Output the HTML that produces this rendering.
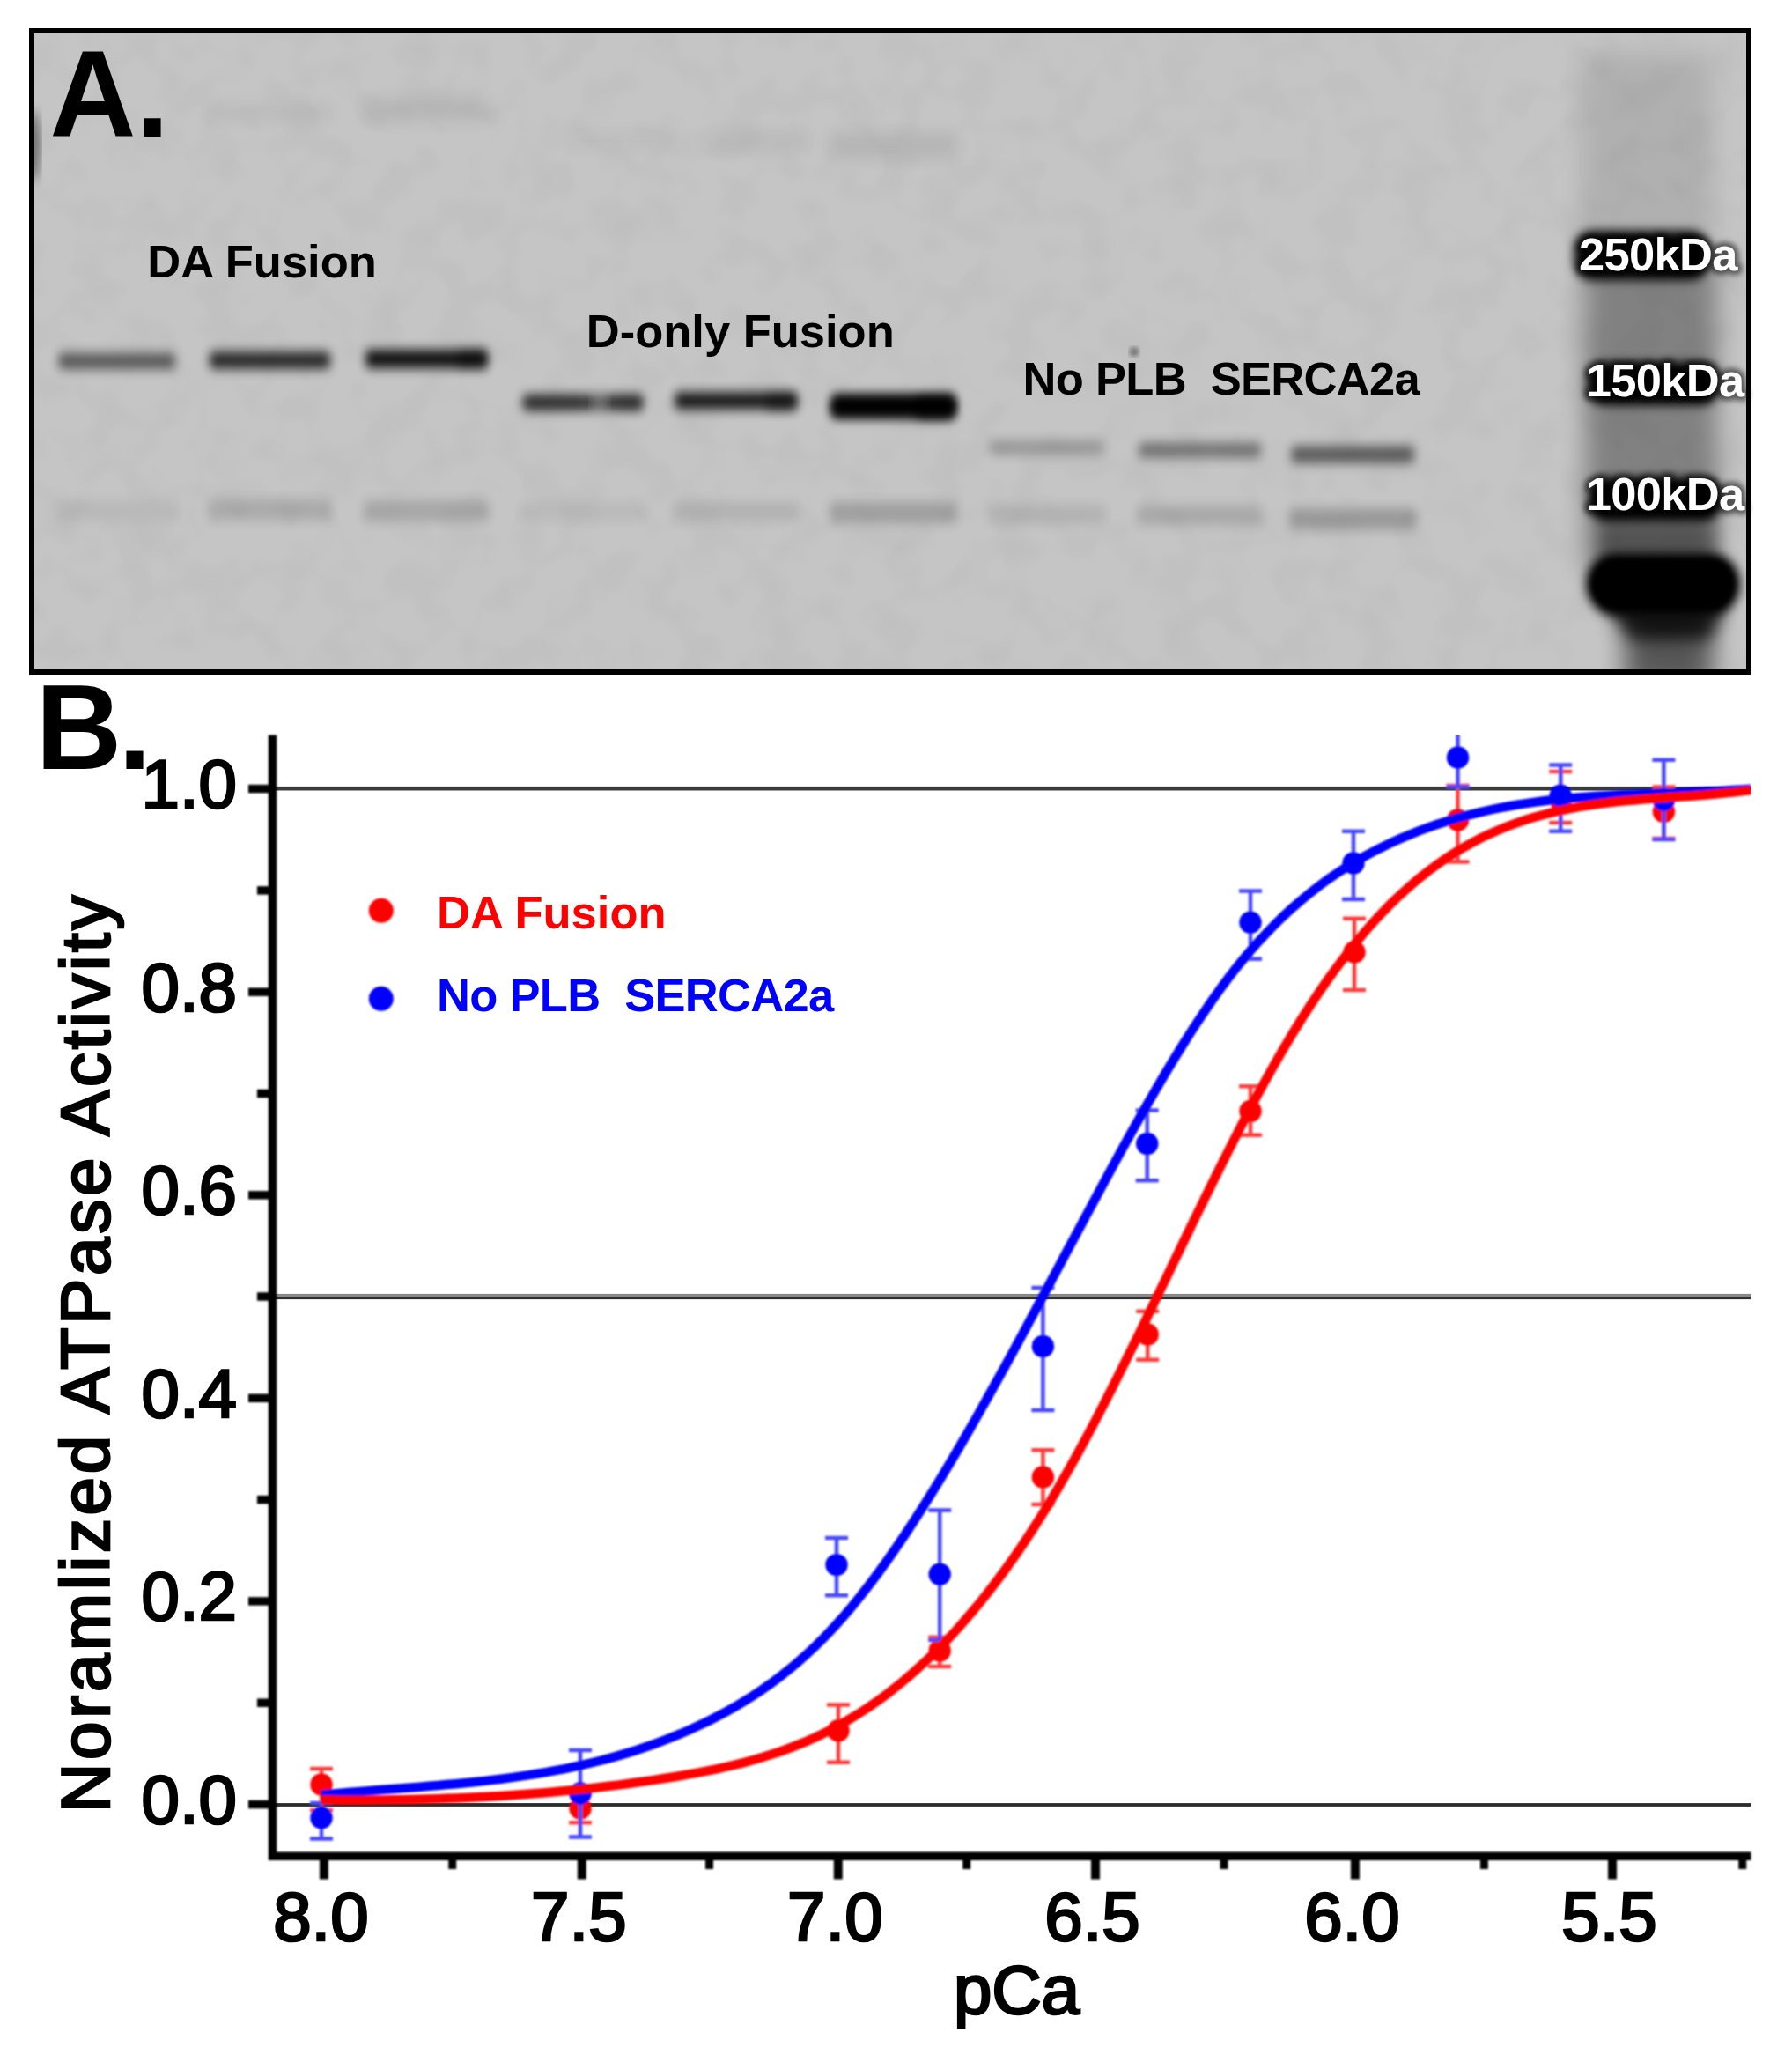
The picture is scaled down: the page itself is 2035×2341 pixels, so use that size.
<!DOCTYPE html>
<html><head><meta charset="utf-8"><title>Figure</title>
<style>
html,body{margin:0;padding:0;background:#fff;}
body{width:2035px;height:2341px;overflow:hidden;}
svg{display:block;}
text{font-family:"Liberation Sans",Arial,sans-serif;}
.b{font-weight:bold;}
.ax{font-size:78px;fill:#000;stroke:#000;stroke-width:2.7px;}
</style></head><body>
<svg width="2035" height="2341" viewBox="0 0 2035 2341">
<defs>
<filter id="b5" x="-20%" y="-200%" width="140%" height="500%"><feGaussianBlur stdDeviation="5.5 6.5"/></filter>
<filter id="b6" x="-30%" y="-100%" width="160%" height="300%"><feGaussianBlur stdDeviation="6"/></filter>
<filter id="b8" x="-30%" y="-100%" width="160%" height="300%"><feGaussianBlur stdDeviation="9"/></filter>
<filter id="b14" x="-50%" y="-50%" width="200%" height="200%"><feGaussianBlur stdDeviation="14"/></filter>
<filter id="b3" x="-20%" y="-20%" width="140%" height="140%"><feGaussianBlur stdDeviation="3"/></filter>
<filter id="soft" x="-5%" y="-5%" width="110%" height="110%"><feGaussianBlur stdDeviation="0.9"/></filter>
<filter id="noise" x="0" y="0" width="100%" height="100%">
<feTurbulence type="fractalNoise" baseFrequency="0.022" numOctaves="2" seed="7" result="n"/>
<feColorMatrix type="matrix" values="0 0 0 0 0  0 0 0 0 0  0 0 0 0 0  0.9 0 0 0 -0.36"/>
</filter>
<clipPath id="blotclip"><rect x="36" y="35" width="1950" height="728"/></clipPath>
<clipPath id="plotclip"><rect x="305" y="834" width="1684" height="1270"/></clipPath>
</defs>
<rect width="2035" height="2341" fill="#fff"/>

<g clip-path="url(#blotclip)">
<rect x="33" y="32" width="1956" height="734" fill="#c5c5c5"/>
<rect x="33" y="32" width="1956" height="734" fill="#000" filter="url(#noise)" opacity="0.07"/>
<ellipse cx="38" cy="165" rx="7" ry="40" fill="#000" opacity="0.45" filter="url(#b5)"/>
<rect x="236" y="117.0" width="141" height="22" rx="5" fill="#000" opacity="0.04" filter="url(#b8)"/>
<rect x="413" y="112.0" width="143" height="26" rx="5" fill="#000" opacity="0.07" filter="url(#b8)"/>
<rect x="640" y="149.0" width="120" height="22" rx="5" fill="#000" opacity="0.03" filter="url(#b8)"/>
<rect x="800" y="148.0" width="120" height="24" rx="5" fill="#000" opacity="0.05" filter="url(#b8)"/>
<rect x="942" y="150.0" width="145" height="30" rx="5" fill="#000" opacity="0.08" filter="url(#b8)"/>
<rect x="66" y="401.0" width="133" height="18" rx="5" fill="#000" opacity="0.56" filter="url(#b5)"/>
<rect x="238" y="399.5" width="137" height="19" rx="5" fill="#000" opacity="0.82" filter="url(#b5)"/>
<rect x="415" y="397.5" width="139" height="20" rx="5" fill="#000" opacity="0.95" filter="url(#b5)"/>
<rect x="593" y="448.5" width="138" height="17" rx="5" fill="#000" opacity="0.78" filter="url(#b5)"/>
<rect x="766" y="445.5" width="140" height="19" rx="5" fill="#000" opacity="0.9" filter="url(#b5)"/>
<rect x="944" y="448.0" width="141" height="26" rx="5" fill="#000" opacity="1.0" filter="url(#b5)"/>
<rect x="1124" y="500.0" width="130" height="16" rx="5" fill="#000" opacity="0.23" filter="url(#b5)"/>
<rect x="1293" y="502.5" width="139" height="17" rx="5" fill="#000" opacity="0.42" filter="url(#b5)"/>
<rect x="1466" y="506.5" width="140" height="19" rx="5" fill="#000" opacity="0.55" filter="url(#b5)"/>
<rect x="520" y="399.0" width="32" height="18" rx="5" fill="#000" opacity="0.35" filter="url(#b5)"/>
<rect x="870" y="448.0" width="32" height="18" rx="5" fill="#000" opacity="0.35" filter="url(#b5)"/>
<rect x="700" y="449.0" width="28" height="16" rx="5" fill="#000" opacity="0.2" filter="url(#b5)"/>
<rect x="600" y="450.0" width="60" height="14" rx="5" fill="#000" opacity="0.15" filter="url(#b5)"/>
<rect x="1040" y="451.0" width="42" height="24" rx="5" fill="#000" opacity="0.6" filter="url(#b5)"/>
<rect x="944" y="453.0" width="141" height="18" rx="5" fill="#000" opacity="0.8" filter="url(#b5)"/>
<rect x="672" y="442.0" width="18" height="30" fill="#c5c5c5" opacity="0.32" filter="url(#b5)"/>
<rect x="64" y="568.0" width="137" height="24" rx="5" fill="#000" opacity="0.06" filter="url(#b5)"/>
<rect x="236" y="567.0" width="141" height="24" rx="5" fill="#000" opacity="0.13" filter="url(#b5)"/>
<rect x="413" y="568.0" width="143" height="24" rx="5" fill="#000" opacity="0.15" filter="url(#b5)"/>
<rect x="590" y="570.0" width="144" height="22" rx="5" fill="#000" opacity="0.05" filter="url(#b5)"/>
<rect x="764" y="570.0" width="144" height="22" rx="5" fill="#000" opacity="0.09" filter="url(#b5)"/>
<rect x="942" y="570.0" width="145" height="24" rx="5" fill="#000" opacity="0.19" filter="url(#b5)"/>
<rect x="1122" y="573.0" width="134" height="22" rx="5" fill="#000" opacity="0.09" filter="url(#b5)"/>
<rect x="1291" y="574.0" width="143" height="22" rx="5" fill="#000" opacity="0.14" filter="url(#b5)"/>
<rect x="1464" y="577.0" width="144" height="24" rx="5" fill="#000" opacity="0.22" filter="url(#b5)"/>
<circle cx="1288" cy="399.5" r="5" fill="#000" opacity="0.5" filter="url(#b3)"/>
<rect x="1795" y="60" width="150" height="230" fill="#000" opacity="0.10" filter="url(#b14)"/>
<rect x="1800" y="290" width="150" height="360" fill="#000" opacity="0.34" filter="url(#b14)"/>
<rect x="1845" y="690" width="100" height="90" fill="#000" opacity="0.55" filter="url(#b14)"/>
<rect x="1788" y="262" width="152" height="56" rx="20" fill="#000" filter="url(#b6)"/>
<rect x="1802" y="411" width="150" height="49" rx="20" fill="#000" filter="url(#b6)"/>
<rect x="1804" y="542" width="151" height="50" rx="20" fill="#000" filter="url(#b6)"/>
<rect x="1815" y="592" width="135" height="50" fill="#000" opacity="0.35" filter="url(#b8)"/>
<path d="M1815,680 L1963,680 L1942,726 L1852,726 Z" fill="#000" opacity="0.8" filter="url(#b8)"/>
<rect x="1801" y="628" width="175" height="70" rx="34" fill="#000" filter="url(#b6)"/>
<rect x="1808" y="635" width="161" height="56" rx="28" fill="#000" filter="url(#b3)"/>
</g>
<rect x="36" y="35" width="1950" height="728" fill="none" stroke="#000" stroke-width="6"/>
<text class="b" transform="translate(56.5,154.8) scale(1,1.028)" font-size="135.5">A.</text>
<text class="b" x="167.3" y="314.5" font-size="52.5">DA Fusion</text>
<text class="b" x="665.8" y="394" font-size="52.5">D-only Fusion</text>
<text class="b" x="1161.5" y="448" font-size="52.5" letter-spacing="-0.7" xml:space="preserve" style="white-space:pre">No PLB  SERCA2a</text>
<text class="b" x="1793" y="307.3" font-size="52.5" letter-spacing="-0.7" fill="#000" stroke="#000" stroke-width="9" stroke-linejoin="round" opacity="0.55" filter="url(#b3)">250kDa</text>
<text class="b" x="1793" y="307.3" font-size="52.5" letter-spacing="-0.7" fill="#fff">250kDa</text>
<text class="b" x="1800.7" y="450.2" font-size="52.5" letter-spacing="-0.7" fill="#000" stroke="#000" stroke-width="9" stroke-linejoin="round" opacity="0.55" filter="url(#b3)">150kDa</text>
<text class="b" x="1800.7" y="450.2" font-size="52.5" letter-spacing="-0.7" fill="#fff">150kDa</text>
<text class="b" x="1800.7" y="579.2" font-size="52.5" letter-spacing="-0.7" fill="#000" stroke="#000" stroke-width="9" stroke-linejoin="round" opacity="0.55" filter="url(#b3)">100kDa</text>
<text class="b" x="1800.7" y="579.2" font-size="52.5" letter-spacing="-0.7" fill="#fff">100kDa</text>
<text class="b" transform="translate(40.5,873) scale(1,1.02)" font-size="135.5" letter-spacing="-4">B.</text>
<rect x="312" y="892.9" width="1676.5" height="4.6" fill="#3c3c3c"/>
<rect x="312" y="1468.9" width="1676.5" height="3.2" fill="#8a8a8a"/>
<rect x="312" y="1472" width="1676.5" height="3.1" fill="#303030"/>
<rect x="312" y="2047.1" width="1676.5" height="3.8" fill="#2c2c2c"/>
<g clip-path="url(#plotclip)" filter="url(#soft)">
<path d="M365.0,2008.0V2055.3M352.0,2008.0h26M352.0,2055.3h26" stroke="#ff3c3c" stroke-width="4.5" fill="none"/>
<circle cx="365.0" cy="2026.0" r="12.7" fill="#ff0000"/>
<path d="M659.0,2037.0V2069.3M646.0,2037.0h26M646.0,2069.3h26" stroke="#ff3c3c" stroke-width="4.5" fill="none"/>
<circle cx="659.0" cy="2053.0" r="12.7" fill="#ff0000"/>
<path d="M952.0,1935.5V2000.8M939.0,1935.5h26M939.0,2000.8h26" stroke="#ff3c3c" stroke-width="4.5" fill="none"/>
<circle cx="952.0" cy="1964.8" r="12.7" fill="#ff0000"/>
<path d="M1067.2,1858.8V1892.0M1054.2,1858.8h26M1054.2,1892.0h26" stroke="#ff3c3c" stroke-width="4.5" fill="none"/>
<circle cx="1067.2" cy="1874.0" r="12.7" fill="#ff0000"/>
<path d="M1184.4,1646.3V1708.0M1171.4,1646.3h26M1171.4,1708.0h26" stroke="#ff3c3c" stroke-width="4.5" fill="none"/>
<circle cx="1184.4" cy="1677.0" r="12.7" fill="#ff0000"/>
<path d="M1303.2,1488.7V1543.7M1290.2,1488.7h26M1290.2,1543.7h26" stroke="#ff3c3c" stroke-width="4.5" fill="none"/>
<circle cx="1303.2" cy="1515.0" r="12.7" fill="#ff0000"/>
<path d="M1420.0,1233.3V1288.8M1407.0,1233.3h26M1407.0,1288.8h26" stroke="#ff3c3c" stroke-width="4.5" fill="none"/>
<circle cx="1420.0" cy="1261.4" r="12.7" fill="#ff0000"/>
<path d="M1538.0,1042.7V1124.0M1525.0,1042.7h26M1525.0,1124.0h26" stroke="#ff3c3c" stroke-width="4.5" fill="none"/>
<circle cx="1538.0" cy="1081.0" r="12.7" fill="#ff0000"/>
<path d="M1655.5,892.0V978.6M1642.5,892.0h26M1642.5,978.6h26" stroke="#ff3c3c" stroke-width="4.5" fill="none"/>
<circle cx="1655.5" cy="931.0" r="12.7" fill="#ff0000"/>
<path d="M1772.2,875.9V934.0M1759.2,875.9h26M1759.2,934.0h26" stroke="#ff3c3c" stroke-width="4.5" fill="none"/>
<circle cx="1772.2" cy="908.0" r="12.7" fill="#ff0000"/>
<path d="M1889.4,893.5V952.0M1876.4,893.5h26M1876.4,952.0h26" stroke="#ff3c3c" stroke-width="4.5" fill="none"/>
<circle cx="1889.4" cy="921.4" r="12.7" fill="#ff0000"/>
<path d="M365.0,2047.0V2087.4M352.0,2047.0h26M352.0,2087.4h26" stroke="#4646ff" stroke-width="4.5" fill="none"/>
<circle cx="365.0" cy="2063.7" r="12.7" fill="#0000ff"/>
<path d="M659.0,1987.0V2085.5M646.0,1987.0h26M646.0,2085.5h26" stroke="#4646ff" stroke-width="4.5" fill="none"/>
<circle cx="659.0" cy="2036.0" r="12.7" fill="#0000ff"/>
<path d="M950.0,1746.0V1811.3M937.0,1746.0h26M937.0,1811.3h26" stroke="#4646ff" stroke-width="4.5" fill="none"/>
<circle cx="950.0" cy="1776.6" r="12.7" fill="#0000ff"/>
<path d="M1067.2,1714.5V1862.0M1054.2,1714.5h26M1054.2,1862.0h26" stroke="#4646ff" stroke-width="4.5" fill="none"/>
<circle cx="1067.2" cy="1787.3" r="12.7" fill="#0000ff"/>
<path d="M1184.4,1462.0V1601.0M1171.4,1462.0h26M1171.4,1601.0h26" stroke="#4646ff" stroke-width="4.5" fill="none"/>
<circle cx="1184.4" cy="1528.5" r="12.7" fill="#0000ff"/>
<path d="M1302.7,1260.6V1340.3M1289.7,1260.6h26M1289.7,1340.3h26" stroke="#4646ff" stroke-width="4.5" fill="none"/>
<circle cx="1302.7" cy="1298.5" r="12.7" fill="#0000ff"/>
<path d="M1420.0,1011.4V1088.8M1407.0,1011.4h26M1407.0,1088.8h26" stroke="#4646ff" stroke-width="4.5" fill="none"/>
<circle cx="1420.0" cy="1047.3" r="12.7" fill="#0000ff"/>
<path d="M1537.0,943.8V1021.0M1524.0,943.8h26M1524.0,1021.0h26" stroke="#4646ff" stroke-width="4.5" fill="none"/>
<circle cx="1537.0" cy="980.0" r="12.7" fill="#0000ff"/>
<path d="M1655.5,826.0V893.5M1642.5,826.0h26M1642.5,893.5h26" stroke="#4646ff" stroke-width="4.5" fill="none"/>
<circle cx="1655.5" cy="860.0" r="12.7" fill="#0000ff"/>
<path d="M1772.2,868.4V943.7M1759.2,868.4h26M1759.2,943.7h26" stroke="#4646ff" stroke-width="4.5" fill="none"/>
<circle cx="1772.2" cy="903.2" r="12.7" fill="#0000ff"/>
<path d="M1889.4,862.8V952.9M1876.4,862.8h26M1876.4,952.9h26" stroke="#4646ff" stroke-width="4.5" fill="none"/>
<circle cx="1889.4" cy="908.0" r="12.7" fill="#0000ff"/>
<path d="M364.5,2037.7 L374.7,2036.8 L384.9,2035.9 L395.1,2035.0 L405.4,2034.2 L415.6,2033.4 L425.8,2032.6 L436.0,2031.8 L446.2,2031.0 L456.4,2030.2 L466.6,2029.5 L476.9,2028.7 L487.1,2027.8 L497.3,2027.0 L507.5,2026.1 L517.7,2025.2 L527.9,2024.2 L538.1,2023.2 L548.3,2022.1 L558.6,2020.9 L568.8,2019.7 L579.0,2018.4 L589.2,2016.9 L599.4,2015.4 L609.6,2013.8 L619.8,2012.1 L630.1,2010.2 L640.3,2008.3 L650.5,2006.2 L660.7,2003.9 L670.9,2001.5 L681.1,1999.0 L691.3,1996.3 L701.6,1993.4 L711.8,1990.4 L722.0,1987.2 L732.2,1983.8 L742.4,1980.2 L752.6,1976.4 L762.8,1972.4 L773.1,1968.2 L783.3,1963.7 L793.5,1959.1 L803.7,1954.2 L813.9,1949.0 L824.1,1943.6 L834.3,1937.9 L844.6,1931.8 L854.8,1925.4 L865.0,1918.6 L875.2,1911.4 L885.4,1903.8 L895.6,1895.7 L905.8,1887.2 L916.0,1878.1 L926.3,1868.5 L936.5,1858.4 L946.7,1847.6 L956.9,1836.3 L967.1,1824.3 L977.3,1811.8 L987.5,1798.7 L997.8,1785.0 L1008.0,1770.9 L1018.2,1756.3 L1028.4,1741.2 L1038.6,1725.7 L1048.8,1709.8 L1059.0,1693.4 L1069.3,1676.8 L1079.5,1659.8 L1089.7,1642.5 L1099.9,1624.9 L1110.1,1607.0 L1120.3,1588.9 L1130.5,1570.6 L1140.8,1552.1 L1151.0,1533.5 L1161.2,1514.7 L1171.4,1495.8 L1181.6,1476.8 L1191.8,1457.7 L1202.0,1438.7 L1212.2,1419.5 L1222.5,1400.5 L1232.7,1381.4 L1242.9,1362.4 L1253.1,1343.5 L1263.3,1324.7 L1273.5,1306.1 L1283.7,1287.6 L1294.0,1269.4 L1304.2,1251.4 L1314.4,1233.8 L1324.6,1216.5 L1334.8,1199.7 L1345.0,1183.2 L1355.2,1167.2 L1365.5,1151.8 L1375.7,1136.8 L1385.9,1122.5 L1396.1,1108.8 L1406.3,1095.8 L1416.5,1083.4 L1426.7,1071.7 L1437.0,1060.6 L1447.2,1050.1 L1457.4,1040.1 L1467.6,1030.7 L1477.8,1021.9 L1488.0,1013.5 L1498.2,1005.6 L1508.4,998.1 L1518.7,991.1 L1528.9,984.5 L1539.1,978.3 L1549.3,972.4 L1559.5,966.9 L1569.7,961.7 L1579.9,956.8 L1590.2,952.1 L1600.4,947.8 L1610.6,943.7 L1620.8,939.9 L1631.0,936.3 L1641.2,932.9 L1651.4,929.8 L1661.7,926.9 L1671.9,924.3 L1682.1,921.8 L1692.3,919.5 L1702.5,917.4 L1712.7,915.5 L1722.9,913.7 L1733.2,912.1 L1743.4,910.6 L1753.6,909.3 L1763.8,908.1 L1774.0,907.1 L1784.2,906.1 L1794.4,905.2 L1804.7,904.5 L1814.9,903.8 L1825.1,903.2 L1835.3,902.6 L1845.5,902.1 L1855.7,901.7 L1865.9,901.3 L1876.1,900.9 L1886.4,900.5 L1896.6,900.2 L1906.8,899.8 L1917.0,899.4 L1927.2,899.0 L1937.4,898.6 L1947.6,898.2 L1957.9,897.7 L1968.1,897.1 L1978.3,896.5 L1988.5,895.8" fill="none" stroke="#0000ff" stroke-width="10.5"/>
<path d="M364.5,2043.6 L374.7,2043.6 L384.9,2043.7 L395.1,2043.7 L405.4,2043.7 L415.6,2043.7 L425.8,2043.6 L436.0,2043.5 L446.2,2043.3 L456.4,2043.2 L466.6,2043.0 L476.9,2042.7 L487.1,2042.5 L497.3,2042.2 L507.5,2041.8 L517.7,2041.4 L527.9,2041.0 L538.1,2040.5 L548.3,2040.0 L558.6,2039.5 L568.8,2038.9 L579.0,2038.2 L589.2,2037.5 L599.4,2036.8 L609.6,2036.0 L619.8,2035.2 L630.1,2034.3 L640.3,2033.3 L650.5,2032.3 L660.7,2031.3 L670.9,2030.2 L681.1,2029.0 L691.3,2027.8 L701.6,2026.6 L711.8,2025.2 L722.0,2023.8 L732.2,2022.4 L742.4,2020.9 L752.6,2019.3 L762.8,2017.7 L773.1,2016.0 L783.3,2014.2 L793.5,2012.4 L803.7,2010.4 L813.9,2008.3 L824.1,2006.0 L834.3,2003.6 L844.6,2001.1 L854.8,1998.3 L865.0,1995.3 L875.2,1992.1 L885.4,1988.7 L895.6,1985.0 L905.8,1981.0 L916.0,1976.8 L926.3,1972.2 L936.5,1967.3 L946.7,1962.0 L956.9,1956.4 L967.1,1950.4 L977.3,1944.1 L987.5,1937.4 L997.8,1930.2 L1008.0,1922.7 L1018.2,1914.7 L1028.4,1906.3 L1038.6,1897.5 L1048.8,1888.2 L1059.0,1878.5 L1069.3,1868.3 L1079.5,1857.7 L1089.7,1846.5 L1099.9,1834.8 L1110.1,1822.7 L1120.3,1810.0 L1130.5,1796.8 L1140.8,1783.0 L1151.0,1768.7 L1161.2,1753.9 L1171.4,1738.5 L1181.6,1722.5 L1191.8,1705.9 L1202.0,1688.7 L1212.2,1670.9 L1222.5,1652.6 L1232.7,1633.8 L1242.9,1614.6 L1253.1,1595.0 L1263.3,1575.0 L1273.5,1554.7 L1283.7,1534.1 L1294.0,1513.3 L1304.2,1492.4 L1314.4,1471.3 L1324.6,1450.2 L1334.8,1429.0 L1345.0,1407.9 L1355.2,1386.8 L1365.5,1365.9 L1375.7,1345.1 L1385.9,1324.6 L1396.1,1304.3 L1406.3,1284.3 L1416.5,1264.7 L1426.7,1245.5 L1437.0,1226.8 L1447.2,1208.5 L1457.4,1190.9 L1467.6,1173.8 L1477.8,1157.3 L1488.0,1141.4 L1498.2,1126.1 L1508.4,1111.4 L1518.7,1097.3 L1528.9,1083.8 L1539.1,1070.9 L1549.3,1058.6 L1559.5,1047.0 L1569.7,1036.0 L1579.9,1025.6 L1590.2,1015.8 L1600.4,1006.6 L1610.6,997.9 L1620.8,989.8 L1631.0,982.2 L1641.2,975.1 L1651.4,968.5 L1661.7,962.3 L1671.9,956.6 L1682.1,951.3 L1692.3,946.5 L1702.5,942.0 L1712.7,937.8 L1722.9,934.1 L1733.2,930.6 L1743.4,927.5 L1753.6,924.7 L1763.8,922.1 L1774.0,919.8 L1784.2,917.8 L1794.4,915.9 L1804.7,914.3 L1814.9,912.8 L1825.1,911.5 L1835.3,910.3 L1845.5,909.3 L1855.7,908.4 L1865.9,907.5 L1876.1,906.7 L1886.4,906.0 L1896.6,905.3 L1906.8,904.6 L1917.0,903.9 L1927.2,903.2 L1937.4,902.4 L1947.6,901.5 L1957.9,900.6 L1968.1,899.6 L1978.3,898.4 L1988.5,897.1" fill="none" stroke="#ff0000" stroke-width="10.5"/>
</g>
<g filter="url(#soft)">
<path d="M309.5,834.5V2112M305,2107.3H1988.5" stroke="#000" stroke-width="9.5" fill="none"/>
<line x1="282" x2="306" y1="2048.5" y2="2048.5" stroke="#000" stroke-width="9.5"/>
<line x1="292" x2="306" y1="1933.2" y2="1933.2" stroke="#000" stroke-width="9.5"/>
<line x1="282" x2="306" y1="1817.9" y2="1817.9" stroke="#000" stroke-width="9.5"/>
<line x1="292" x2="306" y1="1702.6" y2="1702.6" stroke="#000" stroke-width="9.5"/>
<line x1="282" x2="306" y1="1587.3" y2="1587.3" stroke="#000" stroke-width="9.5"/>
<line x1="292" x2="306" y1="1472.0" y2="1472.0" stroke="#000" stroke-width="9.5"/>
<line x1="282" x2="306" y1="1356.8" y2="1356.8" stroke="#000" stroke-width="9.5"/>
<line x1="292" x2="306" y1="1241.5" y2="1241.5" stroke="#000" stroke-width="9.5"/>
<line x1="282" x2="306" y1="1126.2" y2="1126.2" stroke="#000" stroke-width="9.5"/>
<line x1="292" x2="306" y1="1010.9" y2="1010.9" stroke="#000" stroke-width="9.5"/>
<line x1="282" x2="306" y1="895.6" y2="895.6" stroke="#000" stroke-width="9.5"/>
<line x1="367.9" x2="367.9" y1="2110" y2="2133.5" stroke="#000" stroke-width="10"/>
<line x1="660.8" x2="660.8" y1="2110" y2="2133.5" stroke="#000" stroke-width="10"/>
<line x1="951.8" x2="951.8" y1="2110" y2="2133.5" stroke="#000" stroke-width="10"/>
<line x1="1244" x2="1244" y1="2110" y2="2133.5" stroke="#000" stroke-width="10"/>
<line x1="1538.9" x2="1538.9" y1="2110" y2="2133.5" stroke="#000" stroke-width="10"/>
<line x1="1831" x2="1831" y1="2110" y2="2133.5" stroke="#000" stroke-width="10"/>
<line x1="513.7" x2="513.7" y1="2110" y2="2122" stroke="#000" stroke-width="9"/>
<line x1="805.5" x2="805.5" y1="2110" y2="2122" stroke="#000" stroke-width="9"/>
<line x1="1097.7" x2="1097.7" y1="2110" y2="2122" stroke="#000" stroke-width="9"/>
<line x1="1390" x2="1390" y1="2110" y2="2122" stroke="#000" stroke-width="9"/>
<line x1="1685.4" x2="1685.4" y1="2110" y2="2122" stroke="#000" stroke-width="9"/>
<line x1="1978.75" x2="1978.75" y1="2110" y2="2122" stroke="#000" stroke-width="9"/>
</g>
<text class="ax" x="269" y="2070.0" text-anchor="end">0.0</text>
<text class="ax" x="269" y="1839.4" text-anchor="end">0.2</text>
<text class="ax" x="269" y="1608.8" text-anchor="end">0.4</text>
<text class="ax" x="269" y="1378.3" text-anchor="end">0.6</text>
<text class="ax" x="269" y="1147.7" text-anchor="end">0.8</text>
<text class="ax" x="269" y="917.1" text-anchor="end">1.0</text>
<text class="ax" x="364.4" y="2202.7" text-anchor="middle">8.0</text>
<text class="ax" x="657.3" y="2202.7" text-anchor="middle">7.5</text>
<text class="ax" x="948.3" y="2202.7" text-anchor="middle">7.0</text>
<text class="ax" x="1240.5" y="2202.7" text-anchor="middle">6.5</text>
<text class="ax" x="1535.4" y="2202.7" text-anchor="middle">6.0</text>
<text class="ax" x="1827.5" y="2202.7" text-anchor="middle">5.5</text>
<text class="ax" x="1154.5" y="2285.5" text-anchor="middle" font-size="79">pCa</text>
<text class="ax" transform="translate(123.5,1537.3) rotate(-90)" text-anchor="middle" textLength="1041.5" lengthAdjust="spacing">Noramlized ATPase Activity</text>
<g filter="url(#soft)"><circle cx="432.8" cy="1033.8" r="14" fill="#ff0000"/><circle cx="432.8" cy="1133.8" r="14" fill="#0000ff"/></g>
<text class="b" x="496" y="1053.7" font-size="52.5" fill="#ff0000">DA Fusion</text>
<text class="b" x="496" y="1148" font-size="52.5" fill="#0000ff" letter-spacing="-0.7" xml:space="preserve" style="white-space:pre">No PLB  SERCA2a</text>
</svg></body></html>
